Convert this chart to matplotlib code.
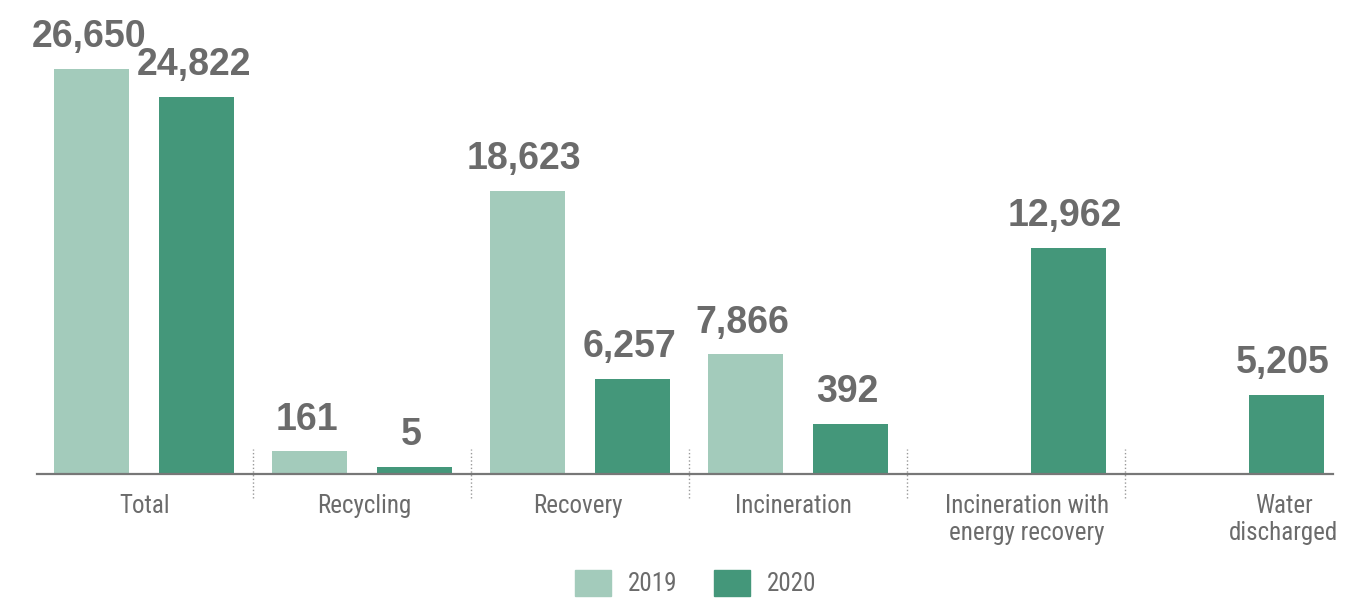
import numpy as np
import matplotlib.pyplot as plt
from matplotlib.patches import Patch

# Data
categories = ['Total', 'Recycling', 'Recovery', 'Incineration',
              'Incineration with\nenergy recovery', 'Water\ndischarged']
labels_2019 = [26650, 161, 18623, 7866, None, None]
labels_2020 = [24822, 5, 6257, 392, 12962, 5205]
# bar lengths as drawn in the source chart (small values are drawn taller)
heights_2019 = [26650, 1510, 18623, 7866, 0, 0]
heights_2020 = [24822, 460, 6257, 3290, 14870, 5205]
years = ['2019', '2020']

light = '#a3cbbb'
dark = '#44977a'
grey = '#6b6b6b'
narrow = ['Roboto Condensed', 'Roboto', 'DejaVu Sans']

W, H = 1345, 599
fig = plt.figure(figsize=(W / 100, H / 100), dpi=100)
# axes from x=37..1333 px, baseline at y=474, top at y=69 (=26650)
ax = fig.add_axes([37 / W, (H - 474) / H, (1333 - 37) / W, 405 / H])

x = np.arange(len(categories))
step = 217.85
x0 = (37 - 144.45) / step
ax.set_xlim(x0, x0 + (1333 - 37) / step)
ax.set_ylim(0, 26650)

width = 75 / step
off = 52.5 / step
b19 = ax.bar(x - off, heights_2019, width, color=light)
b20 = ax.bar(x + off, heights_2020, width, color=dark)

# value labels
for bars, labs in [(b19, labels_2019), (b20, labels_2020)]:
    for bar, lab in zip(bars, labs):
        if lab is None:
            continue
        ax.annotate(f'{lab:,}', (bar.get_x() + bar.get_width() / 2 - 0.015, bar.get_height()),
                    xytext=(0, 15.5), textcoords='offset points',
                    ha='center', va='baseline', fontsize=27, fontweight='bold',
                    color=grey, family='Liberation Sans', annotation_clip=False)

# category labels
shift = [0, 0.01, -0.01, -0.02, 0.05, 0.23]
for xi, cat, s in zip(x, categories, shift):
    ax.annotate(cat, (xi + s, 0), xytext=(0, -14.5), textcoords='offset points',
                ha='center', va='top', fontsize=18, color=grey, family=narrow,
                linespacing=1.15, annotation_clip=False)

# dotted separators
sep_lo, sep_hi = -24 * 26650 / 405, 25 * 26650 / 405
for xs in x[:-1] + 0.5:
    ax.plot([xs, xs], [sep_lo, sep_hi], color='#999999', linestyle=':',
            linewidth=1, clip_on=False)

for side in ['top', 'right', 'left']:
    ax.spines[side].set_visible(False)
ax.spines['bottom'].set_color('#777777')
ax.spines['bottom'].set_linewidth(1.6)
ax.set_xticks([])
ax.set_yticks([])
ax.patch.set_alpha(0)

handles = [Patch(color=light), Patch(color=dark)]
fig.legend(handles, years, loc='center', ncol=2,
           bbox_to_anchor=(695.5 / W, (H - 583) / H), frameon=False,
           prop={'family': narrow, 'size': 18}, labelcolor=grey,
           handlelength=1.44, handleheight=1.2, handletextpad=0.68,
           columnspacing=1.44, borderpad=0)

fig.savefig('out.png', dpi=100)
